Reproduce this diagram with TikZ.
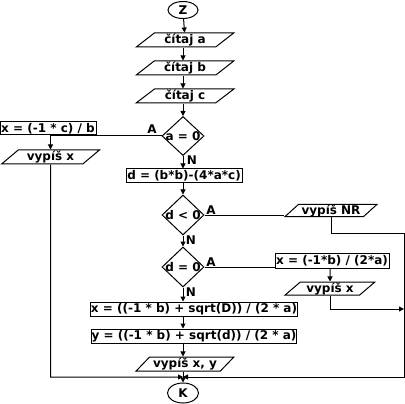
\documentclass[tikz,border=0pt]{standalone}
\usepackage{fontspec}
\setmainfont{DejaVu Sans}
\usetikzlibrary{shapes.geometric,arrows.meta}
\begin{document}
\begin{tikzpicture}[x=1pt,y=-1pt,line width=1pt,
  every node/.style={font=\bfseries\fontsize{12}{13}\selectfont,inner sep=0pt},
  term/.style={draw,ellipse,minimum width=30pt,minimum height=17pt},
  io/.style={draw,trapezium,trapezium left angle=45,trapezium right angle=135,trapezium stretches=true,minimum height=14pt},
  proc/.style={draw,rectangle,minimum height=14pt,inner xsep=0.5pt},
  cond/.style={draw,diamond,minimum width=42pt,minimum height=40pt,inner sep=-1.5pt},
  arr/.style={-{Triangle[length=5pt,width=5pt]}},
  lbl/.style={font=\bfseries\fontsize{12}{13}\selectfont}]
\useasboundingbox (0,0) rectangle (405,404);
\node[term] (Z) at (183,10) {Z};
\node[io,minimum width=98pt] (ca) at (185,40) {čítaj a};
\node[io,minimum width=98pt] (cb) at (185,68) {čítaj b};
\node[io,minimum width=98pt] (cc) at (185,96) {čítaj c};
\node[cond,minimum height=39pt] (d1) at (183,136) {a = 0};
\node[proc,minimum width=96pt,minimum height=13pt] (bx1) at (48,128.5) {x = (-1 * c) / b};
\node[io,minimum width=98pt] (vx1) at (50.5,157) {vypíš x};
\node[proc,minimum width=116pt] (dbox) at (184,176) {d = (b*b)-(4*a*c)};
\node[cond] (d2) at (183,215) {d < 0};
\node[cond] (d3) at (183,267) {d = 0};
\node[io,minimum width=92pt,minimum height=12pt] (nr) at (331,210.5) {vypíš NR};
\node[proc,minimum width=114pt,minimum height=15pt] (bx2) at (332,261) {x = (-1*b) / (2*a)};
\node[io,minimum width=90pt,minimum height=13pt] (vx2) at (330,288.5) {vypíš x};
\node[proc,minimum width=204pt] (bx3) at (194,309) {x = ((-1 * b) + sqrt(D)) / (2 * a)};
\node[proc,minimum width=204pt] (bx4) at (194,336) {y = ((-1 * b) + sqrt(d)) / (2 * a)};
\node[io,minimum width=98pt] (vxy) at (185,364) {vypíš x, y};
\node[term,minimum width=31pt,minimum height=20pt] (K) at (183,393) {K};
\node[lbl] (A1) at (152,129) {A};
\node[lbl] (N1) at (192,160) {N};
\node[lbl] (A2) at (211,210) {A};
\node[lbl] (N2) at (191,240) {N};
\node[lbl] (A3) at (211,262) {A};
\node[lbl] (N3) at (191,292) {N};
\coordinate (j) at (183,377);
\coordinate (lbot) at (50.5,377);
\coordinate (rbot) at (404,377);
\coordinate (rtop) at (404,233);
\coordinate (rmid) at (404,309);
\draw[arr] (Z) -- (ca);
\draw[arr] (ca.south -| Z) -- (cb.north -| Z);
\draw[arr] (cb.south -| Z) -- (cc.north -| Z);
\draw[arr] (cc.south -| Z) -- (d1.north);
\draw[arr] (d1.south) -- (dbox.north -| d1);
\draw[arr] (dbox.south -| d1) -- (d2.north);
\draw[arr] (d2.south) -- (d3.north);
\draw[arr] (d3.south) -- (bx3.north -| d3);
\draw[arr] (bx3.south -| d3) -- (bx4.north -| d3);
\draw[arr] (bx4.south -| d3) -- (vxy.north -| d3);
\draw[arr] (vxy.south -| d3) -- (K.north);
\draw[arr] (d1.west) -| (vx1.north);
\draw (d2.east) -- (d2.east -| nr.bottom left corner);
\draw (d3.east) -- (d3.east -| bx2.west);
\draw[arr] (bx2.south -| vx2) -- (vx2.north);
\draw[arr] (vx2.south) |- (rmid);
\draw[arr] (nr.south) |- (rtop) -- (rbot) -- (j);
\draw[arr] (vx1.south) -- (lbot) -- (j);
\end{tikzpicture}
\end{document}
